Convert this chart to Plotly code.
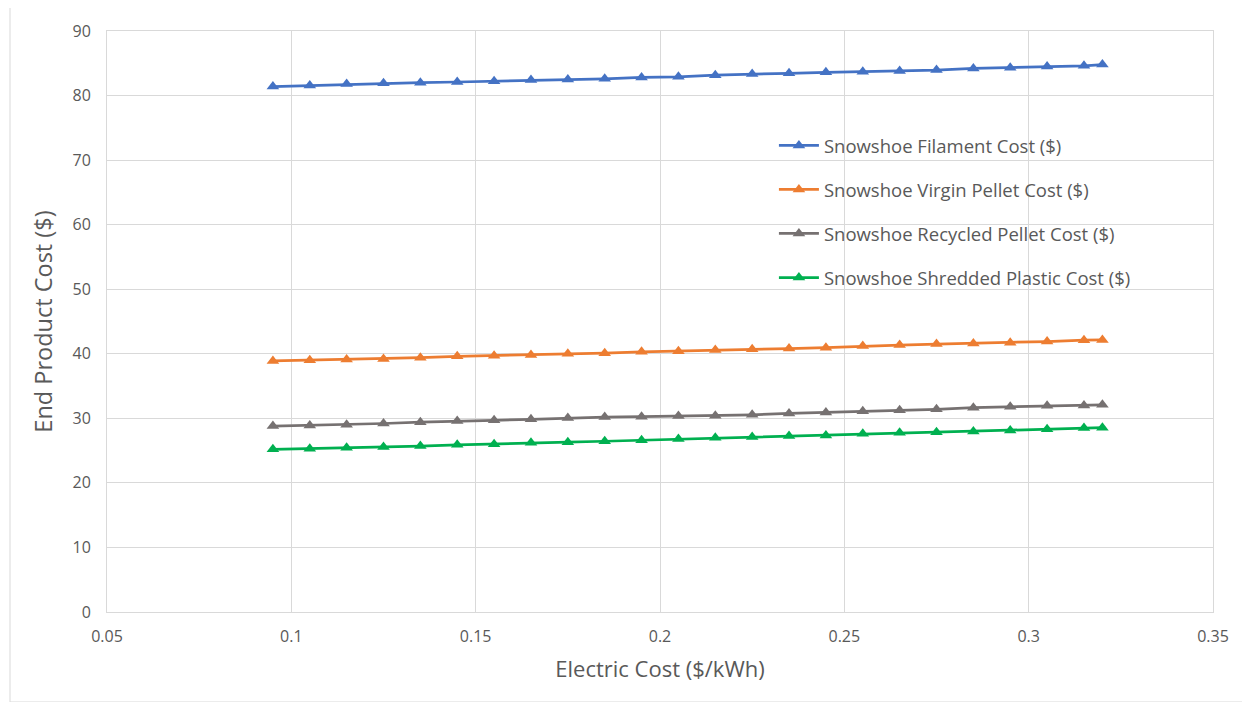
import plotly.graph_objects as go

electric_cost = [0.095, 0.105, 0.115, 0.125, 0.135, 0.145, 0.155, 0.165, 0.175, 0.185,
                 0.195, 0.205, 0.215, 0.225, 0.235, 0.245, 0.255, 0.265, 0.275, 0.285,
                 0.295, 0.305, 0.315, 0.32]

filament_cost = [81.4, 81.55, 81.8, 81.9, 82.0, 82.1, 82.2, 82.4, 82.5, 82.6, 82.8, 82.9,
                 83.15, 83.35, 83.45, 83.6, 83.7, 83.8, 83.95, 84.2, 84.3, 84.5, 84.6, 84.8]
virgin_pellet_cost = [38.9, 39.0, 39.1, 39.2, 39.4, 39.6, 39.7, 39.8, 40.0, 40.1, 40.3, 40.4,
                      40.6, 40.7, 40.8, 40.95, 41.2, 41.35, 41.5, 41.6, 41.7, 41.9, 42.1, 42.15]
recycled_pellet_cost = [28.8, 28.9, 29.0, 29.2, 29.4, 29.6, 29.7, 29.85, 30.05, 30.2, 30.25, 30.35,
                        30.4, 30.55, 30.75, 30.9, 31.1, 31.25, 31.4, 31.65, 31.8, 31.95, 32.0, 32.1]
shredded_plastic_cost = [25.2, 25.3, 25.45, 25.55, 25.7, 25.9, 26.0, 26.2, 26.3, 26.45, 26.6, 26.8,
                         27.0, 27.1, 27.25, 27.35, 27.6, 27.75, 27.85, 27.95, 28.1, 28.3, 28.5, 28.55]

series_names = ["Snowshoe Filament Cost ($)", "Snowshoe Virgin Pellet Cost ($)",
                "Snowshoe Recycled Pellet Cost ($)", "Snowshoe Shredded Plastic Cost ($)"]
series_values = [filament_cost, virgin_pellet_cost, recycled_pellet_cost, shredded_plastic_cost]
colors = ["#4472C4", "#ED7D31", "#767171", "#00B050"]

x_ticks = [0.05, 0.1, 0.15, 0.2, 0.25, 0.3, 0.35]
x_tick_labels = ["0.05", "0.1", "0.15", "0.2", "0.25", "0.3", "0.35"]
y_ticks = [0, 10, 20, 30, 40, 50, 60, 70, 80, 90]

FONT = "Open Sans, DejaVu Sans, sans-serif"

fig = go.Figure()
for i, (name, vals, col) in enumerate(zip(series_names, series_values, colors)):
    fig.add_trace(go.Scatter(
        x=electric_cost, y=vals, name=name, mode="lines+markers",
        line=dict(color=col, width=2.75),
        marker=dict(symbol="triangle-up", size=11, color=col),
        legendgroup=f"g{i}",
    ))

fig.update_layout(
    width=1242, height=694,
    margin=dict(l=99, r=37, t=23, b=90),
    paper_bgcolor="white", plot_bgcolor="white",
    font=dict(family=FONT, color="#595959"),
    showlegend=True,
    legend=dict(x=0.603, y=0.835, xanchor="left", yanchor="top",
                font=dict(size=18.5, color="#595959", family=FONT),
                bgcolor="rgba(0,0,0,0)", tracegroupgap=17, itemwidth=40),
    xaxis=dict(range=[0.05, 0.35], tickvals=x_ticks, ticktext=x_tick_labels,
               showgrid=True, gridcolor="#D9D9D9", gridwidth=1,
               showline=True, linecolor="#D9D9D9", linewidth=1, mirror=True,
               zeroline=False, ticks="", ticklabelstandoff=10,
               tickfont=dict(size=16, color="#595959"),
               title=dict(text="Electric Cost ($/kWh)", font=dict(size=22, color="#595959"), standoff=15)),
    yaxis=dict(range=[0, 90], tickvals=y_ticks,
               showgrid=True, gridcolor="#D9D9D9", gridwidth=1,
               showline=True, linecolor="#D9D9D9", linewidth=1, mirror=True,
               zeroline=False, ticks="", ticklabelstandoff=12,
               tickfont=dict(size=16, color="#595959"),
               title=dict(text="End Product Cost ($)", font=dict(size=23.5, color="#595959"), standoff=13)),
)

fig.add_shape(type="rect", xref="paper", yref="paper",
              x0=-97/1106, x1=(1250-107)/1106 + 0.01, y0=-90/581, y1=1 + 24/581,
              line=dict(color="#D9D9D9", width=1), fillcolor="rgba(0,0,0,0)", layer="below")

fig.write_html("out.html")
